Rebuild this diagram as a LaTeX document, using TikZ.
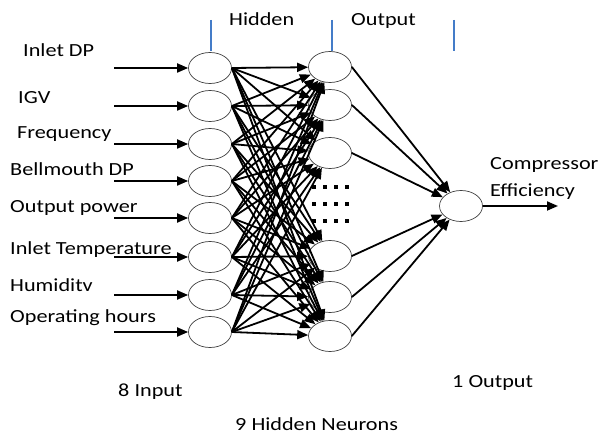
\documentclass[tikz,border=0pt]{standalone}
\usepackage{fontspec}
\setmainfont{Carlito}
\usetikzlibrary{shapes, arrows.meta, positioning}
\definecolor{tickblue}{RGB}{68,124,200}

\begin{document}
\begin{tikzpicture}[x=1pt, y=-1pt, font=\fontsize{18.5}{20}\selectfont,
		neuron/.style={draw=black!75, ellipse, minimum width=43pt, minimum height=31pt, inner sep=0pt, line width=0.7pt},
		link/.style={line width=1.8pt, -{Triangle[length=11pt, width=9pt]}},
		lbl/.style={anchor=base west, inner sep=0pt, xscale=1.2},
		tick/.style={draw=tickblue, line width=1.3pt}]
		\useasboundingbox (0,0) rectangle (613,435);
		
		% Layer marks
		\draw[tick] (211,20) -- (211,51);
		\draw[tick] (332,20) -- (332,51);
		\draw[tick] (454,20) -- (454,51);
		\node[lbl] (thid) at (229,26) {Hidden};
		\node[lbl] (tout) at (351,26) {Output};
		
		% Input layer
		\foreach \y [count=\i] in {68,106,144,181,218,257,295,332} {
			\node[neuron] (in\i) at (210,\y) {};
			\coordinate (src\i) at (114,\y);
			\draw[link] (src\i) -- (in\i);
		}
		\node[lbl] (lin1) at (23,57) {Inlet DP};
		\node[lbl] (lin2) at (18,104) {IGV};
		\node[lbl] (lin3) at (17,139) {Frequency};
		\node[lbl] (lin4) at (10,176) {Bellmouth DP};
		\node[lbl] (lin5) at (10,213) {Output power};
		\node[lbl] (lin6) at (10,255) {Inlet Temperature};
		\node[lbl] (lin7) at (10,292) {Humiditv};
		\node[lbl] (lin8) at (10,323) {Operating hours};
		
		% Hidden layer
		\foreach \y [count=\j] in {67,105,153,256,297,336}
			\node[neuron] (hid\j) at (330,\y) {};
		\foreach \y in {187,204,221}
			\draw[line width=4pt, dash pattern=on 4pt off 7pt] (312,\y) -- (352,\y);
		
		% Output layer
		\node[neuron] (out) at (461,206) {};
		\coordinate (eff) at (558,206);
		\draw[link] (out) -- (eff);
		\node[lbl] (effA) at (490,170) {Compressor};
		\node[lbl] (effB) at (490,197) {Efficiency};
		
		% Connections
		\foreach \i in {1,...,8}
			\foreach \j in {1,...,6}
				\draw[link] (in\i.east) -- (hid\j);
		\foreach \j in {1,...,6}
			\draw[link] (hid\j.east) -- (out);
		
		% Captions
		\node[lbl] (cin) at (118,396) {8 Input};
		\node[lbl] (chid) at (235,430) {9 Hidden Neurons};
		\node[lbl] (cout) at (452,388) {1 Output};
	\end{tikzpicture}
\end{document}
